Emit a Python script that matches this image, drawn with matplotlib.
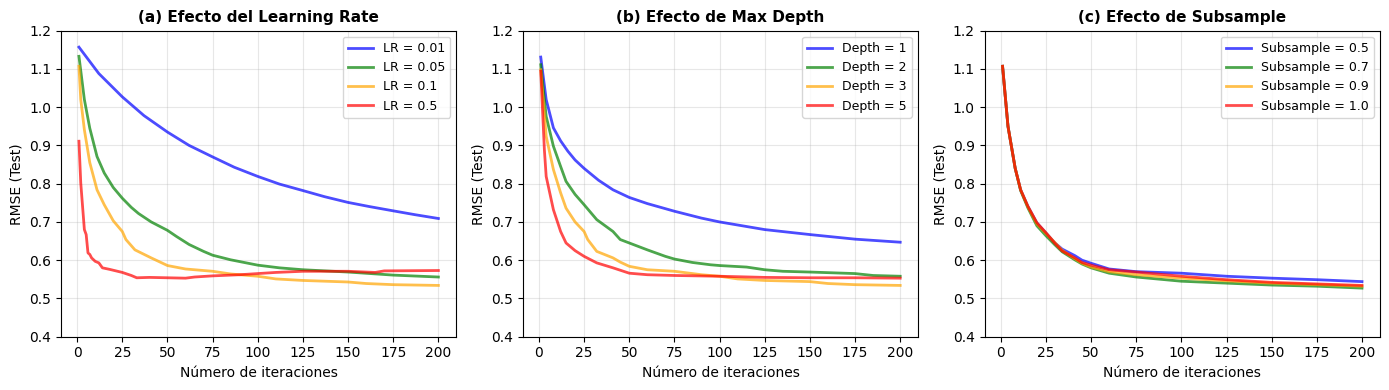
import matplotlib
matplotlib.use("Agg")
import matplotlib.pyplot as plt

# ---------------- Panel (a): Learning rate ----------------
lr_labels = ["LR = 0.01", "LR = 0.05", "LR = 0.1", "LR = 0.5"]

lr001_it = [1, 12, 25, 37, 50, 62, 75, 87, 100, 112, 125, 137, 150, 162, 175, 187, 200]
lr001_val = [1.157, 1.088, 1.027, 0.978, 0.935, 0.900, 0.870, 0.843, 0.819, 0.799, 0.782, 0.766, 0.751, 0.740, 0.729, 0.719, 0.709]

lr005_it = [1, 4, 7, 11, 15, 20, 25, 30, 34, 41, 50, 55, 62, 70, 75, 85, 100, 112, 125, 150, 175, 200]
lr005_val = [1.133, 1.020, 0.945, 0.871, 0.828, 0.790, 0.762, 0.738, 0.722, 0.700, 0.678, 0.662, 0.641, 0.623, 0.613, 0.601, 0.587, 0.580, 0.575, 0.569, 0.561, 0.556]

lr01_it = [1, 2, 4, 7, 11, 15, 20, 25, 27, 32, 41, 50, 60, 75, 85, 100, 110, 125, 150, 160, 175, 200]
lr01_val = [1.107, 1.020, 0.941, 0.855, 0.784, 0.745, 0.703, 0.675, 0.654, 0.627, 0.606, 0.586, 0.577, 0.571, 0.564, 0.558, 0.551, 0.547, 0.543, 0.539, 0.536, 0.534]

lr05_it = [1, 2, 3, 4, 5, 6, 7, 8, 10, 12, 14, 18, 25, 30, 33, 40, 50, 60, 65, 75, 90, 100, 110, 125, 150, 165, 170, 200]
lr05_val = [0.911, 0.802, 0.741, 0.680, 0.667, 0.619, 0.615, 0.606, 0.597, 0.593, 0.580, 0.576, 0.568, 0.560, 0.554, 0.555, 0.554, 0.553, 0.556, 0.559, 0.562, 0.565, 0.568, 0.571, 0.571, 0.568, 0.572, 0.573]

# ---------------- Panel (b): Max depth ----------------
depth_labels = ["Depth = 1", "Depth = 2", "Depth = 3", "Depth = 5"]

d1_it = [1, 4, 8, 12, 16, 20, 25, 33, 41, 50, 60, 75, 90, 100, 115, 125, 150, 175, 200]
d1_val = [1.131, 1.020, 0.946, 0.912, 0.885, 0.862, 0.840, 0.809, 0.784, 0.764, 0.748, 0.728, 0.710, 0.700, 0.688, 0.680, 0.667, 0.655, 0.647]

d2_it = [1, 4, 8, 12, 15, 20, 25, 32, 41, 45, 50, 60, 70, 75, 85, 95, 100, 115, 125, 135, 150, 175, 185, 200]
d2_val = [1.111, 0.976, 0.898, 0.845, 0.806, 0.772, 0.745, 0.706, 0.675, 0.654, 0.645, 0.627, 0.610, 0.603, 0.594, 0.588, 0.586, 0.582, 0.575, 0.571, 0.569, 0.565, 0.560, 0.558]

d3_it = [1, 4, 8, 12, 15, 20, 25, 27, 32, 41, 45, 50, 60, 75, 90, 100, 110, 125, 150, 160, 175, 200]
d3_val = [1.098, 0.924, 0.837, 0.776, 0.736, 0.700, 0.675, 0.654, 0.623, 0.606, 0.595, 0.584, 0.575, 0.571, 0.562, 0.558, 0.551, 0.547, 0.544, 0.539, 0.536, 0.534]

d5_it = [1, 3, 4, 8, 12, 15, 20, 25, 32, 41, 50, 60, 75, 100, 125, 150, 175, 200]
d5_val = [1.094, 0.889, 0.819, 0.732, 0.675, 0.645, 0.625, 0.610, 0.593, 0.580, 0.566, 0.562, 0.560, 0.558, 0.555, 0.554, 0.554, 0.553]

# ---------------- Panel (c): Subsample ----------------
sub_labels = ["Subsample = 0.5", "Subsample = 0.7", "Subsample = 0.9", "Subsample = 1.0"]

s05_it = [1, 4, 8, 11, 15, 20, 25, 30, 34, 41, 45, 50, 60, 75, 100, 125, 150, 175, 200]
s05_val = [1.107, 0.950, 0.840, 0.784, 0.741, 0.697, 0.671, 0.645, 0.629, 0.612, 0.600, 0.592, 0.577, 0.570, 0.566, 0.558, 0.553, 0.549, 0.544]

s07_it = [1, 4, 8, 11, 15, 20, 25, 30, 34, 41, 45, 50, 60, 75, 100, 125, 150, 175, 200]
s07_val = [1.107, 0.950, 0.840, 0.782, 0.737, 0.690, 0.664, 0.640, 0.622, 0.601, 0.590, 0.580, 0.566, 0.556, 0.545, 0.540, 0.535, 0.532, 0.527]

s09_it = [1, 4, 8, 11, 15, 20, 25, 30, 34, 41, 45, 50, 60, 75, 100, 125, 150, 175, 200]
s09_val = [1.107, 0.950, 0.840, 0.784, 0.740, 0.695, 0.670, 0.646, 0.626, 0.604, 0.592, 0.582, 0.570, 0.562, 0.553, 0.546, 0.540, 0.536, 0.532]

s10_it = [1, 4, 8, 11, 15, 20, 25, 30, 34, 41, 45, 50, 60, 75, 100, 125, 150, 175, 200]
s10_val = [1.107, 0.950, 0.840, 0.784, 0.741, 0.698, 0.672, 0.644, 0.624, 0.606, 0.594, 0.587, 0.575, 0.569, 0.558, 0.549, 0.542, 0.538, 0.534]

colors = ["blue", "green", "orange", "red"]

panels = [
    ("(a) Efecto del Learning Rate", lr_labels,
     [(lr001_it, lr001_val), (lr005_it, lr005_val), (lr01_it, lr01_val), (lr05_it, lr05_val)]),
    ("(b) Efecto de Max Depth", depth_labels,
     [(d1_it, d1_val), (d2_it, d2_val), (d3_it, d3_val), (d5_it, d5_val)]),
    ("(c) Efecto de Subsample", sub_labels,
     [(s05_it, s05_val), (s07_it, s07_val), (s09_it, s09_val), (s10_it, s10_val)]),
]

fig, axes = plt.subplots(1, 3, figsize=(13.89, 3.9), dpi=100)
fig.subplots_adjust(left=0.0439, right=0.9935, top=0.9213, bottom=0.1367, wspace=0.168)
for ax, (title, labels, series) in zip(axes, panels):
    for (it, val), lab, c in zip(series, labels, colors):
        ax.plot(it, val, color=c, lw=2, alpha=0.7, label=lab)
    ax.set_title(title, fontsize=11, fontweight="bold")
    ax.set_xlabel("Número de iteraciones")
    ax.set_ylabel("RMSE (Test)")
    ax.set_ylim(0.4, 1.2)
    ax.set_xticks([0, 25, 50, 75, 100, 125, 150, 175, 200])
    ax.grid(True, alpha=0.3)
    ax.legend(fontsize=9, loc="upper right")

fig.savefig("out.png", dpi=100)
